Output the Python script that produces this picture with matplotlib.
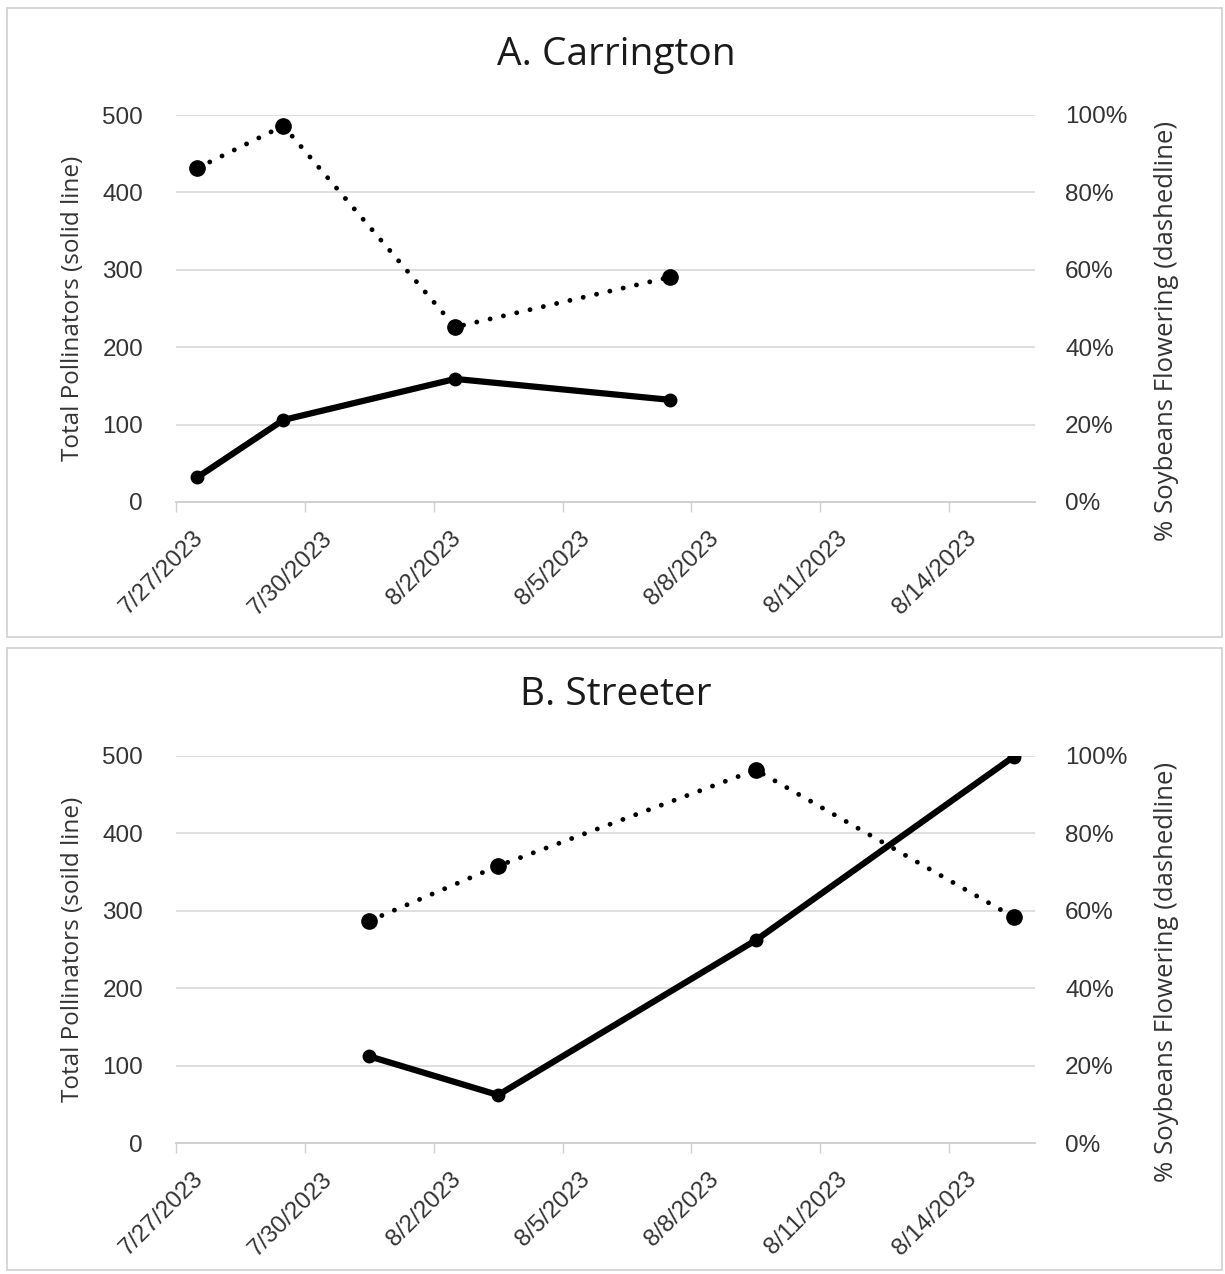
import matplotlib
matplotlib.use("Agg")
import matplotlib.pyplot as plt
from matplotlib.patches import Rectangle
import matplotlib.transforms as mtransforms
import datetime as dt
import matplotlib.dates as mdates

# ---- data ----
titles = ["A. Carrington", "B. Streeter"]
left_labels = ["Total Pollinators (solid line)", "Total Pollinators (soild line)"]
right_label = "% Soybeans Flowering (dashedline)"

dates_A = ["2023-07-27", "2023-07-29", "2023-08-02", "2023-08-07"]
pollinators_A = [32, 106, 159, 132]
flowering_A = [0.863, 0.972, 0.452, 0.581]

dates_B = ["2023-07-31", "2023-08-03", "2023-08-09", "2023-08-15"]
pollinators_B = [112, 62, 262, 499]
flowering_B = [0.574, 0.716, 0.964, 0.584]

tick_dates = ["2023-07-27", "2023-07-30", "2023-08-02", "2023-08-05",
              "2023-08-08", "2023-08-11", "2023-08-14"]
x_start, x_end = "2023-07-27", "2023-08-16"
left_ticks = [0, 100, 200, 300, 400, 500]
right_ticks = [0, 0.2, 0.4, 0.6, 0.8, 1.0]

W, H = 1225, 1274
fig = plt.figure(figsize=(W / 100, H / 100), dpi=100)
fig.patch.set_facecolor("white")

def fx(px):
    return px / W

def fy(py):
    return 1 - py / H

# panel borders
for (y0, y1) in [(8, 637), (648, 1270)]:
    fig.patches.append(Rectangle((fx(7), fy(y1)), fx(1222) - fx(7), fy(y0) - fy(y1),
                                 transform=fig.transFigure, fill=False,
                                 edgecolor="#d0d0d0", linewidth=1.2))

def to_num(ds):
    return [mdates.date2num(dt.datetime.strptime(d, "%Y-%m-%d")) + 0.5 for d in ds]

def tick_num(ds):
    return [mdates.date2num(dt.datetime.strptime(d, "%Y-%m-%d")) for d in ds]

def tick_lbl(ds):
    out = []
    for d in ds:
        t = dt.datetime.strptime(d, "%Y-%m-%d")
        out.append(f"{t.month}/{t.day}/{t.year}")
    return out

panels = [
    (titles[0], left_labels[0], dates_A, pollinators_A, flowering_A, 115, 502, 55),
    (titles[1], left_labels[1], dates_B, pollinators_B, flowering_B, 756, 1143, 695),
]

tick_font = "Liberation Sans"
label_font = "Open Sans"
tcol = "#333333"

for title, llab, dts, poll, flow, top, bot, ty in panels:
    ax = fig.add_axes([fx(176), fy(bot), fx(1035) - fx(176), fy(top) - fy(bot)])
    ax2 = ax.twinx()
    xs = to_num(dts)
    ax.set_xlim(tick_num([x_start])[0], tick_num([x_end])[0])
    ax.set_ylim(0, 500)
    ax2.set_ylim(0, 1.0)
    ax.tick_params(axis="x", direction="out", length=7, width=1, color="#d0d0d0", pad=11)
    ax.tick_params(axis="y", length=0, pad=33 * 0.72)
    ax2.tick_params(axis="y", length=0, pad=30 * 0.72)
    ax.set_yticks(left_ticks)
    ax.set_yticklabels([str(v) for v in left_ticks], fontsize=17.5, family=tick_font, color=tcol)
    ax2.set_yticks(right_ticks)
    ax2.set_yticklabels([f"{int(round(v*100))}%" for v in right_ticks], fontsize=17.5,
                        family=tick_font, color=tcol)
    ax.set_xticks(tick_num(tick_dates))
    ax.set_xticklabels(tick_lbl(tick_dates), rotation=45, ha="right", va="top",
                       rotation_mode="anchor", fontsize=17.5, family=tick_font, color=tcol)
    offset = mtransforms.ScaledTranslation(16 / 100, 0, fig.dpi_scale_trans)
    for lbl in ax.get_xticklabels():
        lbl.set_transform(lbl.get_transform() + offset)
    for a in (ax, ax2):
        for s in ["top", "left", "right"]:
            a.spines[s].set_visible(False)
        a.spines["bottom"].set_color("#d0d0d0")
        a.spines["bottom"].set_linewidth(1.2)
    ax.grid(axis="y", color="#d9d9d9", linewidth=1.2)
    ax.set_axisbelow(True)

    ax.plot(xs, poll, color="black", linewidth=4.5, marker="o", markersize=9,
            solid_capstyle="round", solid_joinstyle="round", zorder=3)
    ax2.plot(xs, flow, color="black", linewidth=3.5, linestyle=(0, (0.01, 2.8)),
             dash_capstyle="round", marker="o", markersize=11, zorder=3)

    ax.set_ylabel(llab, fontsize=17.5, family=label_font, color=tcol)
    ax.yaxis.set_label_coords(-0.106, 0.5)
    ax2.set_ylabel(right_label, fontsize=18.5, family=label_font, color=tcol, rotation=90)
    ax2.yaxis.set_label_coords(1.1385, 0.442)
    fig.text(fx(616), fy(ty), title, fontsize=28, family="Open Sans", color="#1a1a1a",
             ha="center", va="center")

fig.savefig("out.png", dpi=100)
